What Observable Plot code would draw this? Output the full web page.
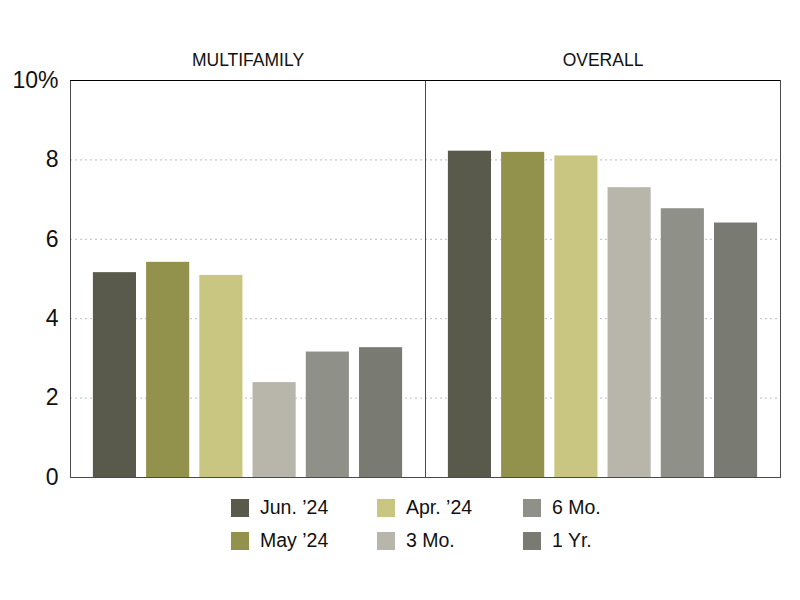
<!DOCTYPE html>
<html>
<head>
<meta charset="utf-8">
<script src="https://cdn.jsdelivr.net/npm/d3@7"></script>
<script src="https://cdn.jsdelivr.net/npm/@observablehq/plot@0.6"></script>
<style>
  body { margin: 0; background: #fff; font-family: "Liberation Sans", Arial, sans-serif; }
  #wrap { position: relative; width: 800px; height: 600px; }
  #legend { position: absolute; left: 231px; top: 491px; display: grid;
            grid-template-columns: 146px 146px 120px; grid-auto-flow: column;
            grid-template-rows: 33px 33px; font-size: 19.5px; color: #111; }
  .item { display: flex; align-items: center; }
  .sw { width: 18px; height: 18px; margin-right: 11px; flex: none; }
</style>
</head>
<body>
<div id="wrap">
  <div id="chart"></div>
  <div id="legend"></div>
</div>
<script>
// Panels and comparison periods
const panels = ["MULTIFAMILY", "OVERALL"];
const periods = ["Jun. ’24", "May ’24", "Apr. ’24", "3 Mo.", "6 Mo.", "1 Yr."];
const colors = ["#5a5a4c", "#93924c", "#c8c680", "#b8b6ab", "#8f9087", "#797a72"];

// Rates (%) by period
const multifamily = [5.16, 5.42, 5.09, 2.39, 3.16, 3.27];
const overall = [8.22, 8.19, 8.10, 7.30, 6.77, 6.41];

const yTicks = [0, 2, 4, 6, 8, 10];
const gridTicks = [2, 4, 6, 8];

const rows = [
  ...periods.map((p, i) => ({panel: panels[0], period: p, value: multifamily[i]})),
  ...periods.map((p, i) => ({panel: panels[1], period: p, value: overall[i]}))
];

const chart = Plot.plot({
  width: 800,
  height: 490,
  marginTop: 80,
  marginLeft: 70,
  marginRight: 20,
  marginBottom: 13,
  style: {fontFamily: "'Liberation Sans', Arial, sans-serif", color: "#111"},
  fx: {domain: panels, padding: 0, axis: null},
  x: {domain: periods, axis: null, paddingInner: 0.19, paddingOuter: 0.43, round: false},
  y: {domain: [0, 10], ticks: yTicks, tickSize: 0, tickPadding: 12, label: null,
      tickFormat: d => d === 10 ? "10%" : String(d)},
  color: {domain: periods, range: colors},
  marks: [
    Plot.ruleY(gridTicks, {stroke: "#bdbdbd", strokeDasharray: "2,3"}),
    Plot.barY(rows, {fx: "panel", x: "period", y: "value", fill: "period"}),
    Plot.frame({stroke: "#4a4a4a"}),
    Plot.ruleY([10], {stroke: "#000"}),
    Plot.text(panels, {fx: d => d, text: d => d, frameAnchor: "top", lineAnchor: "middle",
                       dy: -20, fontSize: 17.5, fill: "#111",
                       style: "letter-spacing:0.3px"})
  ]
});

// Larger y tick labels
chart.querySelectorAll("g[aria-label^='y-axis']").forEach(g => {
  g.setAttribute("font-size", "23");
  g.querySelectorAll("text").forEach(t => {
    t.setAttribute("font-size", "23");
    t.style.fontSize = "23px";
  });
});
document.getElementById("chart").appendChild(chart);

// Legend, filled column by column
const legend = document.getElementById("legend");
periods.forEach((p, i) => {
  const item = document.createElement("div");
  item.className = "item";
  item.innerHTML = `<span class="sw" style="background:${colors[i]}"></span><span>${p}</span>`;
  legend.appendChild(item);
});
</script>
</body>
</html>
